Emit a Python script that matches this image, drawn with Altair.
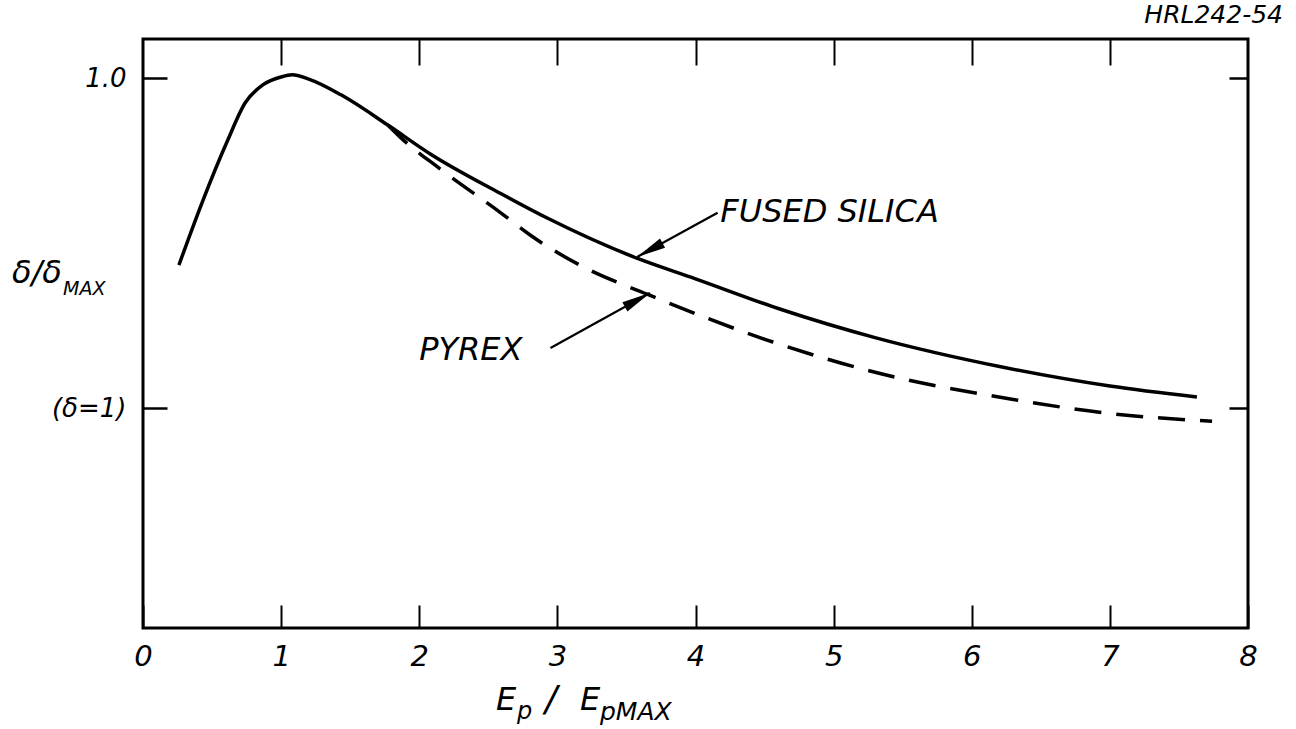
import math
import altair as alt
import pandas as pd

# Normalised secondary-emission yield (delta / delta_max) against Ep / Ep_max
silica_x = [0.26, 0.43, 0.61, 0.74, 0.87, 1.0, 1.08, 1.2, 1.43, 1.77, 2.08, 2.59,
            2.93, 3.58, 4.0, 4.61, 5.3, 6.21, 7.0, 7.63]
silica_y = [0.66, 0.775, 0.885, 0.955, 0.988, 1.002, 1.006, 0.998, 0.97, 0.915,
            0.862, 0.79, 0.745, 0.672, 0.635, 0.58, 0.528, 0.475, 0.44, 0.42]

pyrex_x = [1.77, 1.86, 2.15, 2.59, 2.80, 3.2, 3.65, 4.56, 5.3, 6.29, 7.0, 7.74]
pyrex_y = [0.915, 0.893, 0.835, 0.755, 0.715, 0.655, 0.607, 0.52, 0.465, 0.416,
           0.39, 0.376]

x_tick_values = [0, 1, 2, 3, 4, 5, 6, 7, 8]
y_tick_values = [0.4, 1.0]
y_tick_labels = ["(δ=1)", "1.0"]

# Leader arrows: start of shaft (next to the label) and tip on the curve
arrow_names = ["FUSED SILICA", "PYREX"]
arrow_start_x = [4.16, 2.95]
arrow_start_y = [0.755, 0.509]
arrow_tip_x = [3.58, 3.67]
arrow_tip_y = [0.675, 0.609]

X_DOMAIN = [0, 8]
Y_DOMAIN = [0, 1.071]
W, H = 1105, 589
FONT = "DejaVu Sans"
INK = "black"

xs = alt.Scale(domain=X_DOMAIN, nice=False, zero=False)
ys = alt.Scale(domain=Y_DOMAIN, nice=False, zero=False)

silica = pd.DataFrame({"x": silica_x, "y": silica_y})
pyrex = pd.DataFrame({"x": pyrex_x, "y": pyrex_y})

label_expr = " : ".join(
    f"datum.value == {v} ? '{t}'" for v, t in zip(y_tick_values, y_tick_labels)
) + " : ''"

axis_bottom = alt.Axis(
    orient="bottom", values=x_tick_values, offset=-23, tickSize=23, tickWidth=2,
    tickColor=INK, domain=False, grid=False, labelPadding=14, labelFontSize=29,
    labelFont=FONT, labelFontStyle="italic", labelColor=INK, labelFlush=False,
    title=None,
)
axis_left = alt.Axis(
    orient="left", values=y_tick_values, labelExpr=label_expr, offset=-24,
    tickSize=24, tickWidth=2.5, tickColor=INK, domain=False, grid=False,
    labelPadding=17, labelFontSize=26, labelFont=FONT, labelFontStyle="italic",
    labelColor=INK, title=None,
)
axis_top = alt.Axis(
    orient="top", values=x_tick_values[1:-1], offset=-26, tickSize=26,
    tickWidth=2, tickColor=INK, domain=False, grid=False, labels=False, title=None,
)
axis_right = alt.Axis(
    orient="right", values=y_tick_values, offset=-19, tickSize=19, tickWidth=2.5,
    tickColor=INK, domain=False, grid=False, labels=False, title=None,
)

solid = alt.Chart(silica).mark_line(
    color=INK, strokeWidth=3.5, interpolate="monotone"
).encode(
    x=alt.X("x:Q", scale=xs, axis=axis_bottom),
    y=alt.Y("y:Q", scale=ys, axis=axis_left),
)

dashed = alt.Chart(pyrex).mark_line(
    color=INK, strokeWidth=3.5, interpolate="monotone", strokeDash=[27, 15]
).encode(
    x=alt.X("x:Q", scale=xs, axis=axis_top),
    y=alt.Y("y:Q", scale=ys, axis=axis_right),
)

# Arrow shafts and heads
px_per_x = W / (X_DOMAIN[1] - X_DOMAIN[0])
px_per_y = H / (Y_DOMAIN[1] - Y_DOMAIN[0])
shaft_rows, head_rows = [], []
for name, sx, sy, tx, ty in zip(arrow_names, arrow_start_x, arrow_start_y,
                                arrow_tip_x, arrow_tip_y):
    shaft_rows.append({"arrow": name, "x": sx, "y": sy, "o": 0})
    shaft_rows.append({"arrow": name, "x": tx, "y": ty, "o": 1})
    dx = (tx - sx) * px_per_x
    dy = -(ty - sy) * px_per_y
    length = math.hypot(dx, dy)
    back = 14.0
    hx = tx - dx / length * back / px_per_x
    hy = ty + dy / length * back / px_per_y
    angle = math.degrees(math.atan2(dx, -dy)) % 360
    head_rows.append({"arrow": name, "x": hx, "y": hy, "angle": angle})

shafts = alt.Chart(pd.DataFrame(shaft_rows)).mark_line(
    color=INK, strokeWidth=2.2
).encode(
    x=alt.X("x:Q", scale=xs, axis=None),
    y=alt.Y("y:Q", scale=ys, axis=None),
    detail="arrow:N",
    order="o:Q",
)

heads = alt.Chart(pd.DataFrame(head_rows)).mark_point(
    shape="M0,-1L0.36,1L-0.36,1Z", filled=True, color=INK, opacity=1, size=850,
    strokeWidth=0,
).encode(
    x=alt.X("x:Q", scale=xs, axis=None),
    y=alt.Y("y:Q", scale=ys, axis=None),
    angle=alt.Angle("angle:Q", scale=None),
)

curve_labels = alt.Chart(pd.DataFrame({
    "label": ["FUSED SILICA", "PYREX"],
    "x": [4.18, 2.0],
    "y": [0.756, 0.505],
})).mark_text(
    align="left", baseline="middle", font=FONT, fontStyle="italic",
    fontSize=32, color=INK,
).encode(
    x=alt.X("x:Q", scale=xs, axis=None),
    y=alt.Y("y:Q", scale=ys, axis=None),
    text="label:N",
)

one = pd.DataFrame({"k": [0]})


def free_text(text, x, y, size, align="left", baseline="middle"):
    return alt.Chart(one).mark_text(
        text=text, align=align, baseline=baseline, font=FONT,
        fontStyle="italic", fontSize=size, color=INK,
    ).encode(x=alt.value(x), y=alt.value(y))


# Axis titles with subscripts, and the drawing number
titles = [
    free_text("δ/δ", 12 - 143, 273 - 39, 32),
    free_text("MAX", 63 - 143, 289 - 39, 19),
    free_text("E", 496 - 143, 700 - 39, 32),
    free_text("p", 517 - 143, 712 - 39, 24),
    free_text("/", 545 - 143, 700 - 39, 36),
    free_text("E", 580 - 143, 700 - 39, 32),
    free_text("pMAX", 600 - 143, 712 - 39, 25),
    free_text("HRL242-54", 1283 - 143, 15 - 39, 25, align="right"),
]

chart = alt.layer(
    solid, dashed, shafts, heads, curve_labels, *titles
).resolve_axis(
    x="independent", y="independent"
).properties(
    width=W, height=H,
    padding={"left": 143, "top": 39, "right": 48, "bottom": 101},
    autosize=alt.AutoSizeParams(type="none"),
    background="white",
).configure_view(
    stroke=INK, strokeWidth=3,
)

chart.save("out.html", embed_options={"renderer": "svg", "actions": False})
